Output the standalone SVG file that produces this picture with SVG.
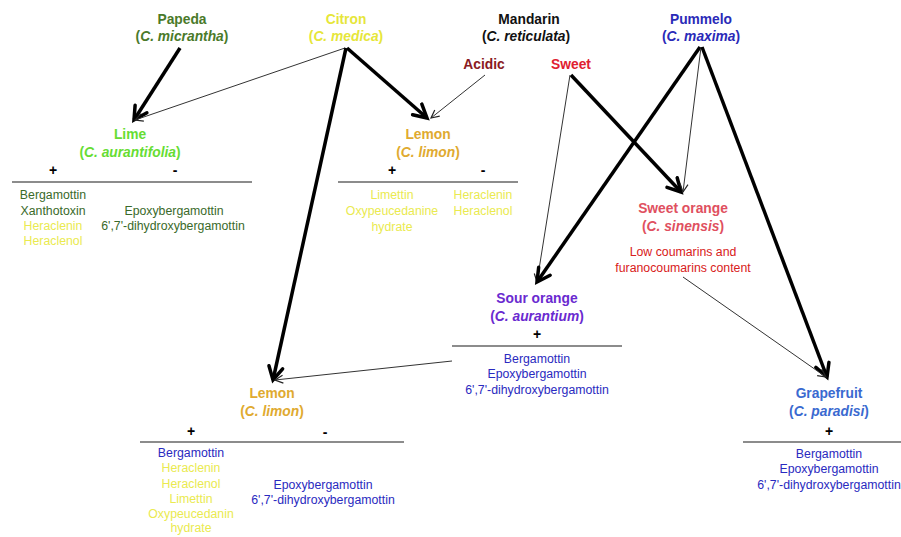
<svg xmlns="http://www.w3.org/2000/svg" width="901" height="537" viewBox="0 0 901 537">
<defs>
<marker id="ahThick" markerUnits="userSpaceOnUse" markerWidth="30" markerHeight="30" refX="0" refY="0" viewBox="-15 -15 30 30" orient="auto">
<path d="M-13,-7 L0,0 L-13,7" fill="none" stroke="#000" stroke-width="3.5" stroke-linecap="round" stroke-linejoin="miter"/>
</marker>
<marker id="ahThin" markerUnits="userSpaceOnUse" markerWidth="20" markerHeight="20" refX="0" refY="0" viewBox="-10 -10 20 20" orient="auto">
<path d="M-8,-4 L0,0 L-8,4" fill="none" stroke="#222" stroke-width="1.2"/>
</marker>
</defs>
<style>
text{font-family:"Liberation Sans",Arial,sans-serif;text-anchor:middle}
.t{font-size:13.8px;font-weight:bold}
.c{font-size:12.3px}
.s{font-size:14px;font-weight:bold;fill:#000}
.rule{stroke:#666;stroke-width:1.5}
.thick{stroke:#000;stroke-width:3.5;fill:none;marker-end:url(#ahThick)}
.thin{stroke:#333;stroke-width:1;fill:none;marker-end:url(#ahThin)}
</style>
<rect width="901" height="537" fill="#fff"/>

<g id="connectors">
<line class="thick" x1="180" y1="48" x2="134" y2="120"/>
<line class="thin" x1="345" y1="48" x2="135" y2="120"/>
<line class="thick" x1="347" y1="48" x2="427" y2="118"/>
<line class="thin" x1="485" y1="75" x2="431" y2="118"/>
<line class="thick" x1="346" y1="48" x2="273" y2="380"/>
<line class="thin" x1="452" y1="361" x2="275" y2="380"/>
<line class="thick" x1="571" y1="75" x2="681" y2="192"/>
<line class="thin" x1="570" y1="75" x2="537" y2="282"/>
<line class="thick" x1="700" y1="47" x2="537" y2="282"/>
<line class="thin" x1="701" y1="47" x2="683" y2="192"/>
<line class="thick" x1="702" y1="47" x2="827" y2="377"/>
<line class="thin" x1="683" y1="277" x2="826" y2="377"/>
</g>

<g id="papeda">
<text class="t" x="182" y="24" fill="#4a7a2a">Papeda</text>
<text class="t" x="182" y="41" fill="#4a7a2a">(<tspan font-style="italic">C. micrantha</tspan>)</text>
</g>
<g id="citron">
<text class="t" x="346" y="24" fill="#e6e63a">Citron</text>
<text class="t" x="346" y="41" fill="#e6e63a">(<tspan font-style="italic">C. medica</tspan>)</text>
</g>
<g id="mandarin">
<text class="t" x="529" y="24" fill="#111">Mandarin</text>
<text class="t" x="526" y="41" fill="#111">(<tspan font-style="italic">C. reticulata</tspan>)</text>
</g>
<g id="pummelo">
<text class="t" x="701" y="24" fill="#2a2ab8">Pummelo</text>
<text class="t" x="701" y="41" fill="#2a2ab8">(<tspan font-style="italic">C. maxima</tspan>)</text>
</g>
<g id="acidic">
<text class="t" x="484" y="69" fill="#8a1a22">Acidic</text>
</g>
<g id="sweet">
<text class="t" x="571" y="69" fill="#e02030">Sweet</text>
</g>

<g id="lime">
<text class="t" x="130" y="139" fill="#66dd33">Lime</text>
<text class="t" x="130" y="157" fill="#66dd33">(<tspan font-style="italic">C. aurantifolia</tspan>)</text>
<text class="s" x="53" y="175">+</text>
<text class="s" x="175" y="175">-</text>
<line class="rule" x1="12" y1="182" x2="252" y2="182"/>
<text class="c" x="53" y="199" fill="#3a6a2a">Bergamottin</text>
<text class="c" x="53" y="215" fill="#3a6a2a">Xanthotoxin</text>
<text class="c" x="53" y="230" fill="#eaea50">Heraclenin</text>
<text class="c" x="53" y="245" fill="#eaea50">Heraclenol</text>
<text class="c" x="174" y="215" fill="#3a6a2a">Epoxybergamottin</text>
<text class="c" x="173" y="230" fill="#3a6a2a">6',7'-dihydroxybergamottin</text>
</g>

<g id="lemon-top">
<text class="t" x="428" y="139" fill="#e0aa30">Lemon</text>
<text class="t" x="428" y="157" fill="#e0aa30">(<tspan font-style="italic">C. limon</tspan>)</text>
<text class="s" x="392" y="175">+</text>
<text class="s" x="483" y="175">-</text>
<line class="rule" x1="338" y1="182" x2="518" y2="182"/>
<text class="c" x="392" y="199" fill="#eaea50">Limettin</text>
<text class="c" x="392" y="215" fill="#eaea50">Oxypeucedanine</text>
<text class="c" x="392" y="231" fill="#eaea50">hydrate</text>
<text class="c" x="483" y="199" fill="#eaea50">Heraclenin</text>
<text class="c" x="483" y="215" fill="#eaea50">Heraclenol</text>
</g>

<g id="sweet-orange">
<text class="t" x="683" y="213" fill="#e05060">Sweet orange</text>
<text class="t" x="683" y="231" fill="#e05060">(<tspan font-style="italic">C. sinensis</tspan>)</text>
<text class="c" x="683" y="256" fill="#d82020">Low coumarins and</text>
<text class="c" x="683" y="272" fill="#d82020">furanocoumarins content</text>
</g>

<g id="sour-orange">
<text class="t" x="537" y="303" fill="#6a2ad0">Sour orange</text>
<text class="t" x="537" y="321" fill="#6a2ad0">(<tspan font-style="italic">C. aurantium</tspan>)</text>
<text class="s" x="537" y="339">+</text>
<line class="rule" x1="452" y1="346" x2="622" y2="346"/>
<text class="c" x="537" y="363" fill="#2a2ac0">Bergamottin</text>
<text class="c" x="537" y="378" fill="#2a2ac0">Epoxybergamottin</text>
<text class="c" x="537" y="394" fill="#2a2ac0">6',7'-dihydroxybergamottin</text>
</g>

<g id="lemon-bottom">
<text class="t" x="272" y="398" fill="#e0aa30">Lemon</text>
<text class="t" x="272" y="416" fill="#e0aa30">(<tspan font-style="italic">C. limon</tspan>)</text>
<text class="s" x="191" y="436">+</text>
<text class="s" x="325" y="437">-</text>
<line class="rule" x1="140" y1="442" x2="404" y2="442"/>
<text class="c" x="191" y="457" fill="#2a2ac0">Bergamottin</text>
<text class="c" x="191" y="472" fill="#eaea50">Heraclenin</text>
<text class="c" x="191" y="488" fill="#eaea50">Heraclenol</text>
<text class="c" x="191" y="503" fill="#eaea50">Limettin</text>
<text class="c" x="191" y="518" fill="#eaea50">Oxypeucedanin</text>
<text class="c" x="191" y="532" fill="#eaea50">hydrate</text>
<text class="c" x="323" y="489" fill="#2a2ac0">Epoxybergamottin</text>
<text class="c" x="323" y="504" fill="#2a2ac0">6',7'-dihydroxybergamottin</text>
</g>

<g id="grapefruit">
<text class="t" x="829" y="398" fill="#3a6ad0">Grapefruit</text>
<text class="t" x="829" y="416" fill="#3a6ad0">(<tspan font-style="italic">C. paradisi</tspan>)</text>
<text class="s" x="829" y="436">+</text>
<line class="rule" x1="743" y1="442" x2="901" y2="442"/>
<text class="c" x="829" y="458" fill="#2a2ac0">Bergamottin</text>
<text class="c" x="829" y="473" fill="#2a2ac0">Epoxybergamottin</text>
<text class="c" x="829" y="489" fill="#2a2ac0">6',7'-dihydroxybergamottin</text>
</g>
</svg>
